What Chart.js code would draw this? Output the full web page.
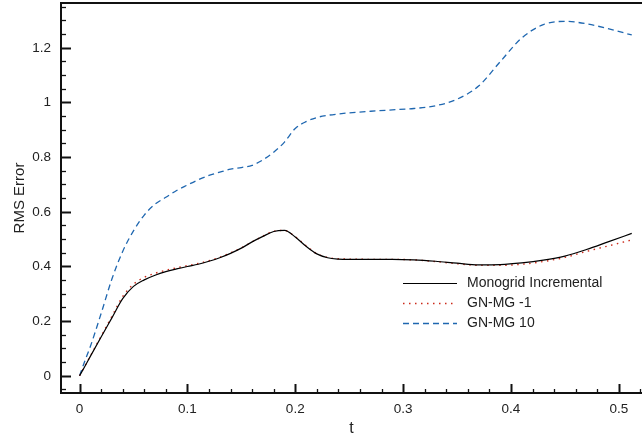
<!DOCTYPE html>
<html>
<head>
<meta charset="utf-8">
<script src="https://cdn.jsdelivr.net/npm/chart.js@4/dist/chart.umd.min.js"></script>
<style>
html,body{margin:0;padding:0;background:#fff;}
#wrap{position:relative;width:642px;height:439px;}
</style>
</head>
<body>
<div id="wrap"><canvas id="c" width="642" height="439"></canvas></div>
<script>
// ---- data ----
const tValues = [0, 0.005, 0.01, 0.02, 0.03, 0.04, 0.05, 0.06, 0.07, 0.08, 0.09, 0.10, 0.11, 0.12, 0.13, 0.14, 0.15, 0.16, 0.17, 0.18, 0.19, 0.20, 0.21, 0.22, 0.23, 0.24, 0.25, 0.27, 0.29, 0.31, 0.33, 0.35, 0.37, 0.39, 0.41, 0.43, 0.45, 0.47, 0.49, 0.512];
const monogrid = [0, 0.035, 0.071, 0.142, 0.212, 0.282, 0.327, 0.351, 0.368, 0.381, 0.391, 0.400, 0.408, 0.419, 0.432, 0.448, 0.467, 0.490, 0.510, 0.528, 0.532, 0.508, 0.474, 0.446, 0.432, 0.427, 0.426, 0.426, 0.426, 0.424, 0.419, 0.412, 0.406, 0.407, 0.413, 0.423, 0.438, 0.462, 0.490, 0.521];
const gnmgMinus1 = [0, 0.036, 0.072, 0.145, 0.218, 0.290, 0.335, 0.360, 0.375, 0.386, 0.395, 0.403, 0.411, 0.421, 0.434, 0.450, 0.468, 0.490, 0.511, 0.529, 0.532, 0.509, 0.476, 0.447, 0.433, 0.428, 0.427, 0.426, 0.426, 0.424, 0.418, 0.410, 0.404, 0.404, 0.408, 0.418, 0.433, 0.455, 0.475, 0.497];
const gnmg10 = [0, 0.055, 0.107, 0.228, 0.354, 0.455, 0.530, 0.588, 0.628, 0.653, 0.678, 0.698, 0.717, 0.733, 0.745, 0.756, 0.762, 0.770, 0.790, 0.818, 0.855, 0.905, 0.930, 0.945, 0.953, 0.958, 0.962, 0.968, 0.973, 0.978, 0.988, 1.012, 1.060, 1.149, 1.236, 1.285, 1.297, 1.288, 1.270, 1.247];
const xTicks = [0, 0.1, 0.2, 0.3, 0.4, 0.5];
const yTicks = [0, 0.2, 0.4, 0.6, 0.8, 1.0, 1.2];
const seriesNames = ['Monogrid Incremental', 'GN-MG -1', 'GN-MG 10'];

const FONT = '"Liberation Sans", Arial, Helvetica, sans-serif';
const toXY = arr => arr.map((v, i) => ({x: tValues[i], y: v}));
const zeroPad = s => { s.paddingTop = 0; s.paddingBottom = 0; s.paddingLeft = 0; s.paddingRight = 0; };

const framePlugin = {
  id: 'frame',
  afterDraw(chart) {
    const ctx = chart.ctx, a = chart.chartArea;
    const xs = chart.scales.x, ys = chart.scales.y;
    ctx.save();
    ctx.strokeStyle = '#111';
    // frame
    ctx.lineWidth = 2;
    ctx.beginPath();
    ctx.moveTo(a.right + 2, a.top); ctx.lineTo(a.left, a.top);
    ctx.lineTo(a.left, a.bottom); ctx.lineTo(a.right + 2, a.bottom);
    ctx.stroke();
    // y ticks (inward)
    for (let k = -1; k <= 27; k++) {
      const v = k * 0.05;
      if (v < ys.min || v > ys.max) continue;
      const major = k % 4 === 0;
      const py = Math.round(ys.getPixelForValue(v)) + 0.5;
      ctx.lineWidth = major ? 2 : 1.3;
      ctx.beginPath();
      ctx.moveTo(a.left, py); ctx.lineTo(a.left + (major ? 10 : 5), py);
      ctx.stroke();
    }
    // x ticks (inward)
    for (let k = 0; k <= 26; k++) {
      const v = k * 0.02;
      if (v < xs.min || v > xs.max) continue;
      const major = k % 5 === 0;
      const px = Math.round(xs.getPixelForValue(v)) + 0.5;
      ctx.lineWidth = major ? 2 : 1.3;
      ctx.beginPath();
      ctx.moveTo(px, a.bottom); ctx.lineTo(px, a.bottom - (major ? 9 : 4));
      ctx.stroke();
    }
    // legend
    const lx0 = 403, lx1 = 457, tx = 467;
    const ly = [283, 303, 323];
    ctx.font = '14px ' + FONT;
    ctx.textBaseline = 'middle';
    ctx.fillStyle = '#222';
    chart.data.datasets.forEach((ds, i) => {
      ctx.save();
      ctx.strokeStyle = ds.borderColor;
      ctx.lineWidth = ds.borderWidth;
      ctx.setLineDash(ds.borderDash || []);
      ctx.beginPath();
      ctx.moveTo(lx0, ly[i] + 0.5); ctx.lineTo(lx1, ly[i] + 0.5);
      ctx.stroke();
      ctx.restore();
      ctx.fillText(ds.label, tx, ly[i]);
    });
    ctx.restore();
  }
};

new Chart(document.getElementById('c'), {
  type: 'line',
  data: {
    datasets: [
      {label: seriesNames[0], data: toXY(monogrid), borderColor: '#000000', borderWidth: 1.2, pointRadius: 0, cubicInterpolationMode: 'monotone', fill: false},
      {label: seriesNames[1], data: toXY(gnmgMinus1), borderColor: '#cc2a1a', borderWidth: 1.4, borderDash: [1.5, 4.5], pointRadius: 0, cubicInterpolationMode: 'monotone', fill: false},
      {label: seriesNames[2], data: toXY(gnmg10), borderColor: '#1f67b0', borderWidth: 1.3, borderDash: [6, 4], pointRadius: 0, cubicInterpolationMode: 'monotone', fill: false}
    ]
  },
  options: {
    responsive: false,
    animation: false,
    devicePixelRatio: 1,
    layout: {padding: {top: 3, right: 0, bottom: 0, left: 0}},
    plugins: {legend: {display: false}, tooltip: {enabled: false}},
    scales: {
      x: {
        type: 'linear',
        min: -0.0172,
        max: 0.5215,
        grid: {display: false, drawTicks: false},
        border: {display: false},
        afterBuildTicks: s => { s.ticks = xTicks.map(v => ({value: v})); },
        afterFit: s => { s.height = 46; zeroPad(s); },
        ticks: {
          padding: 8,
          color: '#222',
          font: {family: FONT, size: 13.5},
          maxRotation: 0,
          callback: v => String(Math.round(v * 10) / 10)
        },
        title: {display: true, text: 't', color: '#222', font: {family: FONT, size: 16}, padding: {top: 0, bottom: 1}}
      },
      y: {
        type: 'linear',
        min: -0.063,
        max: 1.364,
        grid: {display: false, drawTicks: false},
        border: {display: false},
        afterBuildTicks: s => { s.ticks = yTicks.map(v => ({value: v})); },
        afterFit: s => { s.width = 61; zeroPad(s); },
        ticks: {
          padding: 10,
          color: '#222',
          font: {family: FONT, size: 13.5},
          callback: v => String(Math.round(v * 10) / 10)
        },
        title: {display: true, text: 'RMS Error', color: '#222', font: {family: FONT, size: 15}, padding: {top: 11, bottom: 0}}
      }
    }
  },
  plugins: [framePlugin]
});
</script>
</body>
</html>
